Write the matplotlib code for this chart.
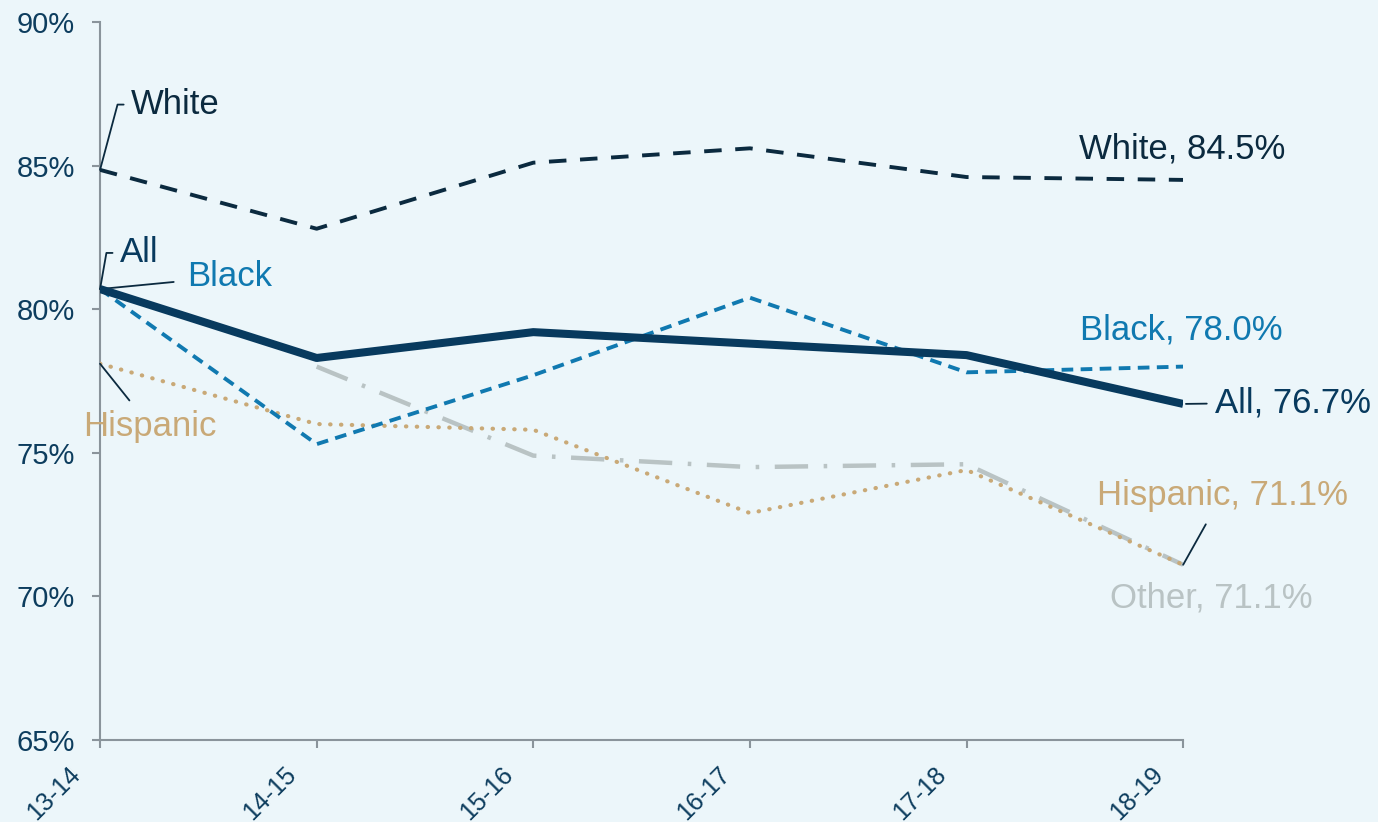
import matplotlib.pyplot as plt
import matplotlib.transforms as mtransforms
import numpy as np

plt.rcParams['font.family'] = ['Liberation Sans', 'DejaVu Sans']

years = ['13-14', '14-15', '15-16', '16-17', '17-18', '18-19']
all_rate = [80.7, 78.3, 79.2, 78.8, 78.4, 76.7]
white = [84.85, 82.8, 85.1, 85.6, 84.6, 84.5]
black = [80.7, 75.3, 77.7, 80.4, 77.8, 78.0]
hispanic = [78.1, 76.0, 75.8, 72.9, 74.4, 71.1]
other = [np.nan, 78.0, 74.9, 74.5, 74.6, 71.1]

c_all = '#083a5e'
c_white = '#0b2a3f'
c_black = '#1079b0'
c_hisp = '#c9a977'
c_other = '#b9c3c4'
c_text = '#0d3d5e'
bg = '#ecf6fa'

fig = plt.figure(figsize=(13.78, 8.22), dpi=100, facecolor=bg)
ax = fig.add_axes([0.0726, 0.0998, 0.786, 0.8735])
ax.set_facecolor(bg)

x = np.arange(len(years))
ax.plot(x, other, color=c_other, lw=3.2, dashes=(7.5, 3.5, 0.8, 3.5), zorder=2)
ax.plot(x, hispanic, color=c_hisp, lw=3, linestyle=(0, (0.1, 2.5)),
        dash_capstyle='round', zorder=3)
ax.plot(x, white, color=c_white, lw=2.8, dashes=(4.5, 3.5), zorder=3)
ax.plot(x, black, color=c_black, lw=2.8, dashes=(3, 1.9), zorder=4)
ax.plot(x, all_rate, color=c_all, lw=5.8, solid_capstyle='butt', zorder=5)

ax.set_xlim(0, 5)
ax.set_ylim(65, 90)
ax.set_yticks([65, 70, 75, 80, 85, 90])
ax.set_yticklabels([f'{v}%' for v in [65, 70, 75, 80, 85, 90]])
ax.set_xticks(x)
ax.set_xticklabels(years, rotation=45, ha='right', va='center',
                   rotation_mode='anchor')
ax.tick_params(axis='both', colors='#8a949b', length=6, width=1.5,
               labelcolor=c_text, labelsize=21)
ax.tick_params(axis='y', pad=12)
ax.tick_params(axis='x', pad=16, labelsize=18)
shift = mtransforms.ScaledTranslation(-0.24, 0, fig.dpi_scale_trans)
for lab in ax.get_xticklabels():
    lab.set_transform(lab.get_transform() + shift)
for s in ['top', 'right']:
    ax.spines[s].set_visible(False)
for s in ['left', 'bottom']:
    ax.spines[s].set_color('#8a949b')
    ax.spines[s].set_linewidth(1.5)

fs = 25
lead = dict(arrowstyle='-', color=c_white, lw=1.3, shrinkA=0, shrinkB=0)

# start labels
ax.annotate('White', xy=(0, white[0]), xytext=(22, 47), textcoords='offset points',
            fontsize=fs, color=c_white, va='center', ha='left',
            arrowprops=dict(lead, shrinkA=3,
                            connectionstyle='angle,angleA=0,angleB=75,rad=0'))
ax.annotate('All', xy=(0, all_rate[0]), xytext=(14, 26), textcoords='offset points',
            fontsize=fs, color=c_all, va='center', ha='left',
            arrowprops=dict(lead, shrinkA=3,
                            connectionstyle='angle,angleA=0,angleB=80,rad=0'))
ax.annotate('Black', xy=(0, black[0]), xytext=(63, 9), textcoords='offset points',
            fontsize=fs, color=c_black, va='center', ha='left',
            arrowprops=dict(lead, shrinkA=8))
ax.annotate('Hispanic', xy=(0, hispanic[0]), xytext=(36, -45), textcoords='offset points',
            fontsize=fs, color=c_hisp, va='center', ha='center',
            arrowprops=dict(lead, shrinkA=6))

# end labels
ax.annotate(f'White, {white[-1]}%', xy=(5, white[-1]), xytext=(-1, 22),
            textcoords='offset points', fontsize=fs, color=c_white,
            va='center', ha='center')
ax.annotate(f'Black, {black[-1]:.1f}%', xy=(5, black[-1]), xytext=(-1, 26),
            textcoords='offset points', fontsize=fs, color=c_black,
            va='center', ha='center')
ax.annotate(f'All, {all_rate[-1]}%', xy=(5, all_rate[-1]), xytext=(23, 1),
            textcoords='offset points', fontsize=fs, color=c_all,
            va='center', ha='left',
            arrowprops=dict(lead, shrinkA=4, shrinkB=2))
ax.annotate(f'Hispanic, {hispanic[-1]}%', xy=(5, hispanic[-1]), xytext=(28, 50),
            textcoords='offset points', fontsize=fs, color=c_hisp,
            va='center', ha='center',
            arrowprops=dict(lead, shrinkA=8))
ax.annotate(f'Other, {other[-1]}%', xy=(5, other[-1]), xytext=(20, -24),
            textcoords='offset points', fontsize=fs, color=c_other,
            va='center', ha='center')

fig.savefig('out.png', dpi=100, facecolor=bg)
